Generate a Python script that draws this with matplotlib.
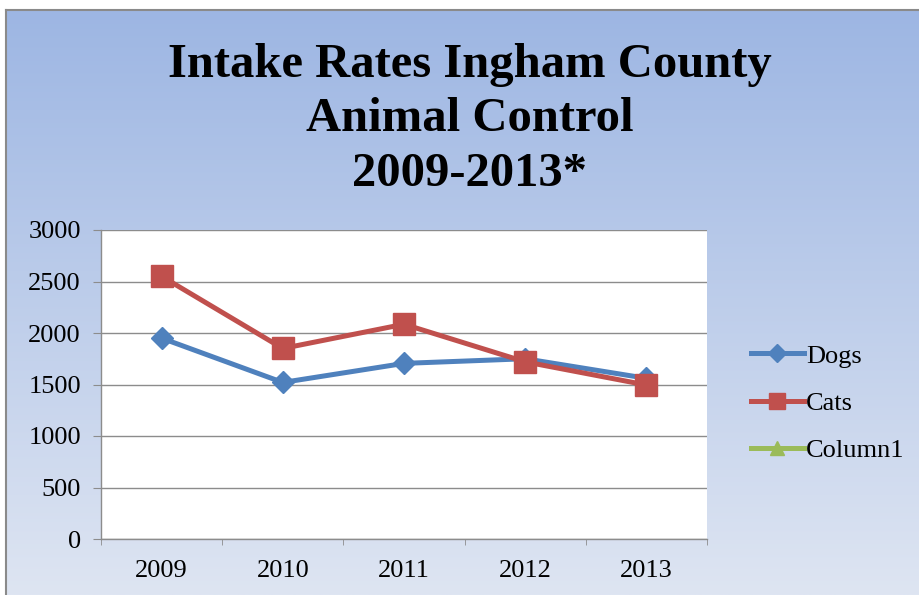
import numpy as np
import matplotlib
matplotlib.use("Agg")
import matplotlib.pyplot as plt
from matplotlib.lines import Line2D

years = ["2009", "2010", "2011", "2012", "2013"]
dogs = [1950, 1520, 1705, 1750, 1560]
cats = [2550, 1850, 2085, 1720, 1495]
column1 = []
yticks = [0, 500, 1000, 1500, 2000, 2500, 3000]

SERIF = ["Liberation Serif", "DejaVu Serif"]
plt.rcParams["font.family"] = SERIF

W, H = 920, 595
fig = plt.figure(figsize=(W / 100, H / 100), dpi=100)
fig.patch.set_facecolor("white")

# background gradient panel
bg = fig.add_axes([0, 0, 1, 1], zorder=0)
bg.set_xlim(0, W)
bg.set_ylim(H, 0)
bg.axis("off")
top = np.array([157, 182, 227]) / 255
bot = np.array([222, 229, 242]) / 255
t = np.linspace(0, 1, 256)[:, None, None]
grad = top * (1 - t) + bot * t
grad = np.repeat(grad, 2, axis=1)
bg.imshow(grad, extent=[6, W, H, 10], aspect="auto", interpolation="bilinear")
bg.plot([6, W], [10, 10], color="#8a8a8a", lw=1.5)
bg.plot([6, 6], [10, H], color="#8a8a8a", lw=1.5)

# title
for yy, txt in [(65, "Intake Rates Ingham County"), (119, "Animal Control"), (174, "2009-2013*")]:
    fig.text(470 / W, 1 - yy / H, txt, ha="center", va="center",
             fontsize=35, fontweight="bold", family=SERIF)

ax = fig.add_axes([101 / W, 1 - 539 / H, (707 - 101) / W, (539 - 230) / H], zorder=2)
ax.set_facecolor("white")
x = np.arange(len(years))
ax.set_xlim(-0.5, len(years) - 0.5)
ax.set_ylim(0, 3000)
ax.set_yticks(yticks)
ax.set_yticklabels([str(v) for v in yticks], fontsize=19)
ax.yaxis.grid(True, color="#8c8c8c", lw=1)
ax.set_axisbelow(True)
ax.set_xticks(x)
ax.set_xticklabels(years, fontsize=19)
ax.set_xticks(np.arange(-0.5, len(years), 1), minor=True)
ax.tick_params(axis="x", which="major", length=0, pad=15)
ax.tick_params(axis="x", which="minor", length=4.5, color="#8c8c8c", direction="out")
ax.tick_params(axis="y", length=5.5, color="#8c8c8c", direction="out", pad=9)
for s in ["top", "right"]:
    ax.spines[s].set_visible(False)
for s in ["left", "bottom"]:
    ax.spines[s].set_color("#8c8c8c")
    ax.spines[s].set_linewidth(1)

l1, = ax.plot(x, dogs, color="#4F81BD", lw=3.6, marker="D", markersize=11,
              markerfacecolor="#4F81BD", markeredgecolor="#4F81BD", label="Dogs", zorder=3)
l2, = ax.plot(x, cats, color="#C0504D", lw=3.6, marker="s", markersize=15.5,
              markerfacecolor="#C0504D", markeredgecolor="#C0504D", label="Cats", zorder=4)
l3, = ax.plot(x[:len(column1)], column1, color="#9BBB59", lw=3.6, marker="^", markersize=10,
              label="Column1")

h1 = Line2D([], [], color="#4F81BD", lw=3.6, marker="D", markersize=9)
h2 = Line2D([], [], color="#C0504D", lw=3.6, marker="s", markersize=11)
h3 = Line2D([], [], color="#9BBB59", lw=3.6, marker="^", markersize=10)
leg = fig.legend(handles=[h1, h2, h3], labels=["Dogs", "Cats", "Column1"], loc="center left",
                 bbox_to_anchor=(727 / W, 1 - 403 / H), frameon=False,
                 fontsize=19, handlelength=2.0, handletextpad=0.1, labelspacing=0.9)

fig.savefig("out.png", dpi=100)
